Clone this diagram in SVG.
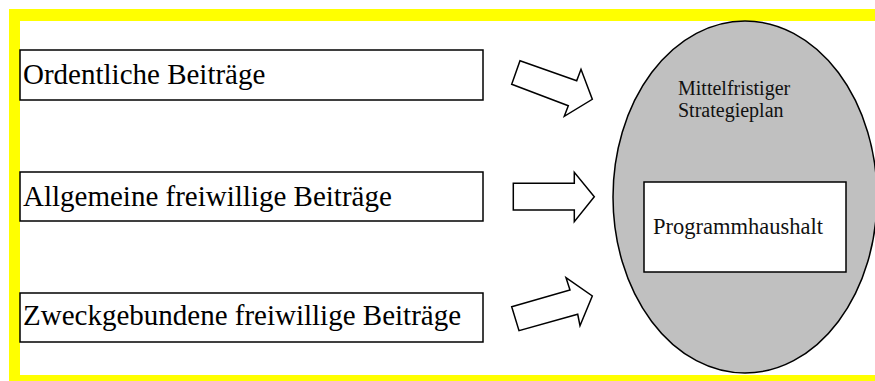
<svg xmlns="http://www.w3.org/2000/svg" width="875" height="381" viewBox="0 0 875 381">
<style>
.frame{fill:#ffff00;stroke:none}
.box{fill:#fff;stroke:#000;stroke-width:1.5}
.arrow{fill:#fff;stroke:#000;stroke-width:1.5;stroke-linejoin:miter}
.big{font-family:"Liberation Serif","Times New Roman",serif;font-size:29px;fill:#000}
.small{font-family:"Liberation Serif","Times New Roman",serif;font-size:20px;fill:#111}
.mid{font-family:"Liberation Serif","Times New Roman",serif;font-size:22.5px;fill:#111}
</style>
<rect width="875" height="381" fill="#fff"/>
<g id="frame">
<rect class="frame" x="9" y="9" width="866" height="12"/>
<rect class="frame" x="9" y="9" width="11" height="372"/>
<rect class="frame" x="9" y="375" width="866" height="6"/>
</g>
<g id="ellipse-node">
<ellipse cx="745" cy="197" rx="132" ry="176" fill="#c0c0c0" stroke="#000" stroke-width="1.5"/>
<text class="small" x="678" y="95">Mittelfristiger</text>
<text class="small" x="678" y="117">Strategieplan</text>
</g>
<g id="programmhaushalt">
<rect class="box" x="644" y="182" width="202" height="90"/>
<text class="mid" x="653" y="234">Programmhaushalt</text>
</g>
<g id="ordentliche">
<rect class="box" x="20" y="50" width="463" height="50"/>
<text class="big" x="23" y="84">Ordentliche Beiträge</text>
</g>
<g id="allgemeine">
<rect class="box" x="20" y="172" width="463" height="49"/>
<text class="big" x="23" y="206">Allgemeine freiwillige Beiträge</text>
</g>
<g id="zweckgebundene">
<rect class="box" x="20" y="293" width="463" height="49"/>
<text class="big" x="23" y="325">Zweckgebundene freiwillige Beiträge</text>
</g>
<g id="connectors">
<polygon class="arrow" points="520,60.7 576.7,80.7 581,69.3 592.3,99.3 564.3,116.3 568.3,105.7 511.7,84.3"/>
<polygon class="arrow" points="513.3,183.3 574.3,183.3 574.3,172.3 594.3,196.7 574.3,221.7 574.3,210 513.3,210"/>
<polygon class="arrow" points="511.7,306.7 570,290 566,277.7 592.3,296 580,325.7 577.7,314.3 519,330.7"/>
</g>
</svg>
